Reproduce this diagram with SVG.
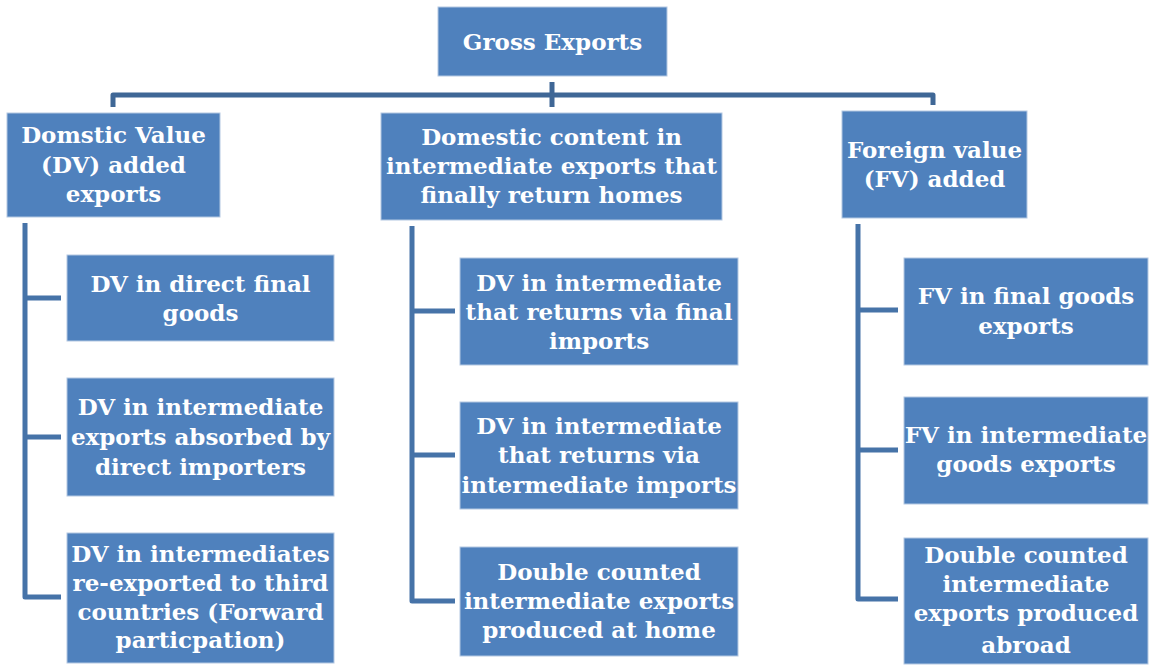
<svg xmlns="http://www.w3.org/2000/svg" width="1153" height="665" viewBox="0 0 1153 665">
  <style>
    .box { fill: #4f81bd; stroke: #b4c8e2; stroke-width: 1; }
    .lbl { font-family: "DejaVu Serif", "Liberation Serif", serif; font-weight: bold; font-size: 23px; fill: #ffffff; text-anchor: middle; }
    .bus { fill: none; stroke: #3f6796; stroke-width: 5; stroke-linejoin: round; }
    .stem { fill: none; stroke: #4673a8; stroke-width: 5; stroke-linejoin: round; }
  </style>

  <rect width="1153" height="665" fill="#ffffff"/>

  <!-- connectors -->
  <g id="connectors">
    <path class="bus" d="M113,107 V95 H933 V105"/>
    <path class="bus" d="M552,82 V107"/>
    <path class="stem" d="M25,223 V597 H61 M25,298 H61 M25,437 H61"/>
    <path class="stem" d="M412,226 V601 H455 M412,311 H455 M412,455 H455"/>
    <path class="stem" d="M858,224 V599 H898 M858,310 H898 M858,450 H898"/>
  </g>

  <g id="gross-exports">
    <rect class="box" x="438" y="7" width="229" height="69"/>
    <text class="lbl" x="552.5" y="50">Gross Exports</text>
  </g>

  <g id="dv-added">
    <rect class="box" x="7" y="113" width="213" height="104"/>
    <text class="lbl" x="113.5" y="143">Domstic Value</text>
    <text class="lbl" x="113.5" y="172.5">(DV) added</text>
    <text class="lbl" x="113.5" y="202">exports</text>
  </g>

  <g id="domestic-return">
    <rect class="box" x="381" y="113" width="341" height="107"/>
    <text class="lbl" x="551.5" y="145">Domestic content in</text>
    <text class="lbl" x="551.5" y="174">intermediate exports that</text>
    <text class="lbl" x="551.5" y="203">finally return homes</text>
  </g>

  <g id="fv-added">
    <rect class="box" x="842" y="111" width="185" height="107"/>
    <text class="lbl" x="934.5" y="158">Foreign value</text>
    <text class="lbl" x="934.5" y="187">(FV) added</text>
  </g>

  <g id="dv-final">
    <rect class="box" x="67" y="255" width="267" height="86"/>
    <text class="lbl" x="200.5" y="292">DV in direct final</text>
    <text class="lbl" x="200.5" y="321">goods</text>
  </g>

  <g id="dv-absorbed">
    <rect class="box" x="67" y="378" width="267" height="118"/>
    <text class="lbl" x="200.5" y="415">DV in intermediate</text>
    <text class="lbl" x="200.5" y="445">exports absorbed by</text>
    <text class="lbl" x="200.5" y="475">direct importers</text>
  </g>

  <g id="dv-reexported">
    <rect class="box" x="67" y="533" width="267" height="130"/>
    <text class="lbl" x="200.5" y="562">DV in intermediates</text>
    <text class="lbl" x="200.5" y="591">re-exported to third</text>
    <text class="lbl" x="200.5" y="620">countries (Forward</text>
    <text class="lbl" x="200.5" y="648">particpation)</text>
  </g>

  <g id="dv-final-imports">
    <rect class="box" x="460" y="258" width="278" height="107"/>
    <text class="lbl" x="599" y="291">DV in intermediate</text>
    <text class="lbl" x="599" y="320">that returns via final</text>
    <text class="lbl" x="599" y="349">imports</text>
  </g>

  <g id="dv-intermediate-imports">
    <rect class="box" x="460" y="402" width="278" height="107"/>
    <text class="lbl" x="599" y="434">DV in intermediate</text>
    <text class="lbl" x="599" y="463">that returns via</text>
    <text class="lbl" x="599" y="493">intermediate imports</text>
  </g>

  <g id="double-home">
    <rect class="box" x="460" y="547" width="278" height="109"/>
    <text class="lbl" x="599" y="580">Double counted</text>
    <text class="lbl" x="599" y="609">intermediate exports</text>
    <text class="lbl" x="599" y="638">produced at home</text>
  </g>

  <g id="fv-final">
    <rect class="box" x="904" y="258" width="244" height="107"/>
    <text class="lbl" x="1026" y="304">FV in final goods</text>
    <text class="lbl" x="1026" y="334">exports</text>
  </g>

  <g id="fv-intermediate">
    <rect class="box" x="904" y="397" width="244" height="107"/>
    <text class="lbl" x="1026" y="443">FV in intermediate</text>
    <text class="lbl" x="1026" y="472">goods exports</text>
  </g>

  <g id="double-abroad">
    <rect class="box" x="904" y="538" width="244" height="126"/>
    <text class="lbl" x="1026" y="563">Double counted</text>
    <text class="lbl" x="1026" y="592">intermediate</text>
    <text class="lbl" x="1026" y="621">exports produced</text>
    <text class="lbl" x="1026" y="653">abroad</text>
  </g>
</svg>
